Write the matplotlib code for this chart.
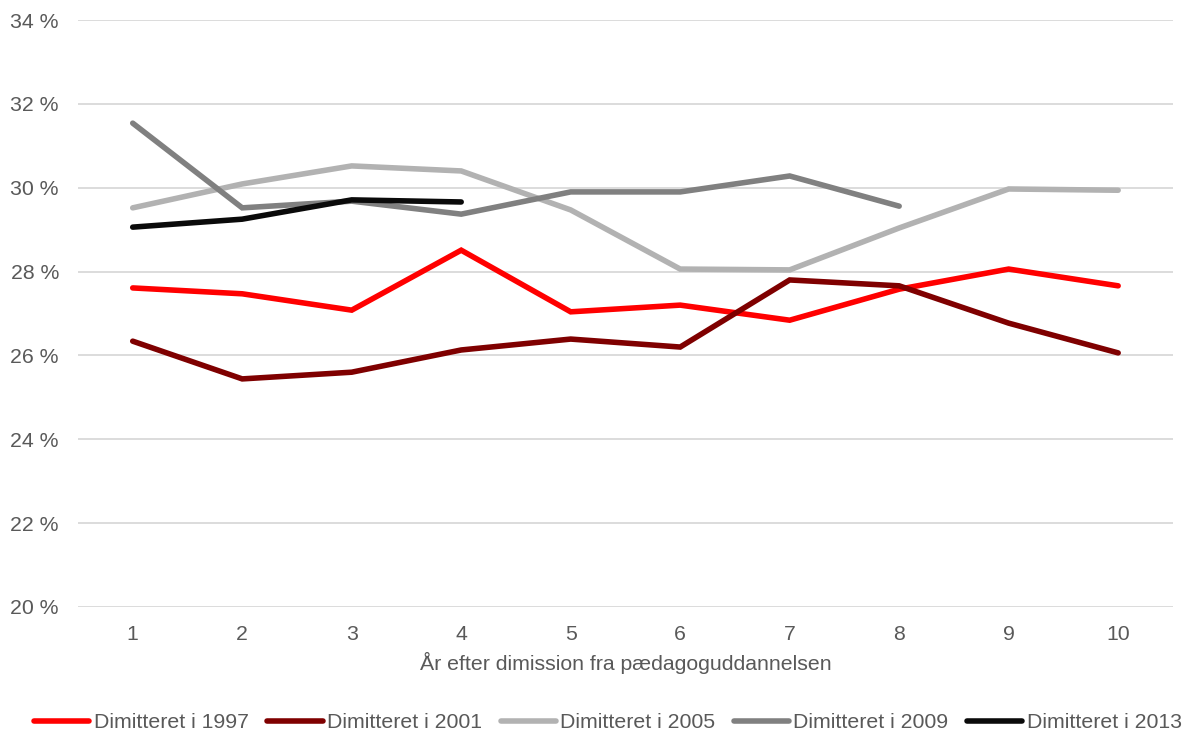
import numpy as np
import matplotlib.pyplot as plt

plt.rcParams['font.family'] = ['Liberation Sans', 'DejaVu Sans']

# data
years = [1, 2, 3, 4, 5, 6, 7, 8, 9, 10]
d1997 = [27.61, 27.47, 27.08, 28.51, 27.04, 27.20, 26.84, 27.58, 28.06, 27.66]
d2001 = [26.34, 25.44, 25.60, 26.13, 26.39, 26.20, 27.80, 27.66, 26.77, 26.06]
d2005 = [29.52, 30.09, 30.52, 30.40, 29.47, 28.06, 28.04, 29.04, 29.97, 29.94]
d2009 = [31.54, 29.52, 29.68, 29.37, 29.90, 29.90, 30.28, 29.56]
d2013 = [29.06, 29.25, 29.71, 29.66]

series = [
    ("Dimitteret i 1997", d1997, "#ff0000"),
    ("Dimitteret i 2001", d2001, "#7f0000"),
    ("Dimitteret i 2005", d2005, "#b2b2b2"),
    ("Dimitteret i 2009", d2009, "#808080"),
    ("Dimitteret i 2013", d2013, "#0a0a0a"),
]

fs = 15.3
fig = plt.figure(figsize=(11.85, 7.36), dpi=100)
ax = fig.add_axes([0.0658, 0.1753, 0.924, 0.7975])

for name, vals, col in series:
    ax.plot(years[:len(vals)], vals, color=col, lw=4.0, label=name,
            solid_capstyle='round', solid_joinstyle='miter')

ax.set_xlim(0.5, 10.5)
ax.set_ylim(20, 34)
ax.set_xticks(years)
ax.set_yticks(np.arange(20, 35, 2))
ax.set_yticklabels([f"{v} %" for v in range(20, 35, 2)])
ax.tick_params(length=0, labelsize=fs, labelcolor='#595959')
ax.tick_params(axis='x', pad=13)
ax.tick_params(axis='y', pad=13.7)
for s in ax.spines.values():
    s.set_visible(False)
ax.grid(axis='y', color='#d9d9d9', lw=1.3)
ax.set_axisbelow(True)

ax.set_xlabel("År efter dimission fra pædagoguddannelsen", fontsize=fs,
              color='#595959', labelpad=6)

fig.legend(loc='center', bbox_to_anchor=(0.513, 0.018), ncol=5, frameon=False,
           fontsize=fs, labelcolor='#595959', handlelength=2.6,
           handletextpad=0.2, columnspacing=0.88)

fig.savefig("out.png", dpi=100, facecolor='white')
